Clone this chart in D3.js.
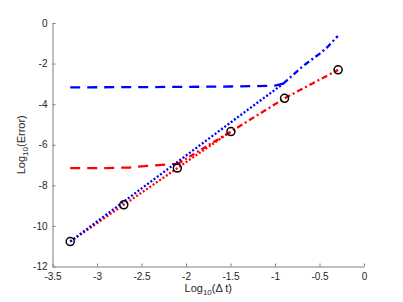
<!DOCTYPE html>
<html><head><meta charset="utf-8">
<script src="https://cdn.jsdelivr.net/npm/d3@7"></script>
<style>
html,body{margin:0;padding:0;background:#fff;}
svg{display:block;font-family:"Liberation Sans",Arial,Helvetica,sans-serif;}
</style></head>
<body><svg id="chart" width="403" height="302"></svg>
<script>
// ---- data (log10 values) ----
const xTicks = [-3.5, -3, -2.5, -2, -1.5, -1, -0.5, 0];
const yTicks = [0, -2, -4, -6, -8, -10, -12];

const circleX = [-3.301, -2.699, -2.097, -1.495, -0.893, -0.291];
const circleY = [-10.77, -8.96, -7.15, -5.35, -3.71, -2.31];

const blueDashedX = [-3.301, -2.5, -1.5, -1.0, -0.907];
const blueDashedY = [-3.17, -3.16, -3.13, -3.09, -2.99];

const blueDottedX = [-3.301, -2.699, -2.097, -1.495, -0.907];
const blueDottedY = [-10.77, -8.80, -6.85, -4.89, -2.99];

const blueDashDotX = [-0.907, -0.85, -0.793, -0.70, -0.606, -0.50, -0.418, -0.294];
const blueDashDotY = [-2.99, -2.76, -2.54, -2.18, -1.86, -1.52, -1.22, -0.64];

const redDashedX = [-3.301, -2.9, -2.63, -2.43, -2.18, -2.097];
const redDashedY = [-7.15, -7.15, -7.12, -7.04, -6.96, -6.95];

const redDottedX = [-3.301, -2.699, -2.097, -1.495];
const redDottedY = [-10.77, -8.96, -7.15, -5.35];

const redDashDotX = [-2.097, -1.495, -0.893, -0.291];
const redDashDotY = [-6.95, -5.35, -3.71, -2.31];

// ---- layout ----
const svg = d3.select("#chart");
const x = d3.scaleLinear().domain([-3.5, 0]).range([52.5, 364]);
const y = d3.scaleLinear().domain([-12, 0]).range([266.5, 23]);
const axisColor = "#808080";
const textColor = "#262626";

const xAxis = d3.axisBottom(x).tickValues(xTicks).tickSizeInner(-3).tickSizeOuter(0).tickPadding(6)
  .tickFormat(d => String(d));
const yAxis = d3.axisLeft(y).tickValues(yTicks).tickSizeInner(-3).tickSizeOuter(0).tickPadding(5)
  .tickFormat(d => String(d));

const gx = svg.append("g").attr("transform", `translate(0,${y(-12)})`).call(xAxis);
const gy = svg.append("g").attr("transform", `translate(${x(-3.5)},0)`).call(yAxis);
[gx, gy].forEach(g => {
  g.select(".domain").attr("stroke", axisColor).attr("stroke-width", 1);
  g.selectAll(".tick line").attr("stroke", axisColor).attr("stroke-width", 1);
  g.selectAll(".tick text").attr("fill", textColor).attr("font-size", 10)
    .attr("font-family", "'Liberation Sans',Arial,sans-serif");
});

// ---- lines ----
const line = d3.line().x(d => x(d[0])).y(d => y(d[1]));
const zip = (a, b) => a.map((v, i) => [v, b[i]]);
const series = [
  {xs: blueDashedX, ys: blueDashedY, color: "#0000ff", dash: "10,7"},
  {xs: redDashedX, ys: redDashedY, color: "#ff0000", dash: "10,7"},
  {xs: redDottedX, ys: redDottedY, color: "#ff0000", dash: "2,2"},
  {xs: blueDottedX, ys: blueDottedY, color: "#0000ff", dash: "2,2"},
  {xs: redDashDotX, ys: redDashDotY, color: "#ff0000", dash: "6,3,2,3"},
  {xs: blueDashDotX, ys: blueDashDotY, color: "#0000ff", dash: "6,3,2,3"}
];
series.forEach(s => {
  svg.append("path").datum(zip(s.xs, s.ys)).attr("d", line)
    .attr("fill", "none").attr("stroke", s.color).attr("stroke-width", 2.3)
    .attr("stroke-dasharray", s.dash);
});

svg.append("g").selectAll("circle").data(zip(circleX, circleY)).join("circle")
  .attr("cx", d => x(d[0])).attr("cy", d => y(d[1])).attr("r", 4)
  .attr("fill", "none").attr("stroke", "#000").attr("stroke-width", 1.5);

// ---- axis titles ----
const xl = svg.append("text").attr("x", (x(-3.5) + x(0)) / 2).attr("y", 292)
  .attr("text-anchor", "middle").attr("font-size", 11).attr("fill", textColor);
xl.append("tspan").text("Log");
xl.append("tspan").text("10").attr("font-size", 8).attr("dy", 3);
xl.append("tspan").text("(Δ t)").attr("dy", -3);

const yl = svg.append("text").attr("transform", `translate(25,${(y(0) + y(-12)) / 2}) rotate(-90)`)
  .attr("text-anchor", "middle").attr("font-size", 11).attr("fill", textColor);
yl.append("tspan").text("Log");
yl.append("tspan").text("10").attr("font-size", 8).attr("dy", 3);
yl.append("tspan").text("(Error)").attr("dy", -3);
</script>
</body></html>
